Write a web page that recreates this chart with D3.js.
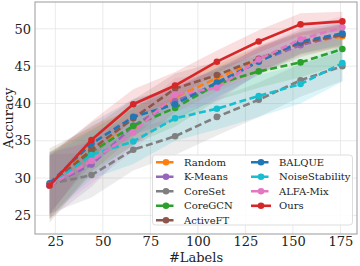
<!DOCTYPE html>
<html>
<head>
<meta charset="utf-8">
<script src="https://cdn.jsdelivr.net/npm/d3@7"></script>
<style>
  body { margin: 0; background: #fff; }
  text { font-family: "DejaVu Serif", serif; fill: #222; }
</style>
</head>
<body>
<div id="vis"></div>
<script>
const width = 360;
const height = 266;

// x positions (number of labels)
const labels = [22, 44, 66, 88, 110, 132, 154, 176];
const xTicks = [25, 50, 75, 100, 125, 150, 175];
const yTicks = [25, 30, 35, 40, 45, 50];

const methods = ["Random", "K-Means", "CoreSet", "CoreGCN", "ActiveFT", "BALQUE", "NoiseStability", "ALFA-Mix", "Ours"];
const colors = ["#ff7f0e", "#9467bd", "#7f7f7f", "#2ca02c", "#8c564b", "#1f77b4", "#17becf", "#e377c2", "#d62728"];

// mean accuracy per method
const randomMean   = [29.0, 34.0, 36.8, 40.8, 43.4, 45.8, 48.0, 49.0];
const kmeansMean   = [29.0, 31.8, 37.0, 40.3, 42.5, 45.7, 47.8, 49.2];
const coresetMean  = [29.2, 30.4, 33.8, 35.6, 38.2, 40.5, 43.1, 45.0];
const coregcnMean  = [29.0, 33.5, 37.0, 39.4, 42.6, 44.3, 45.5, 47.3];
const activeftMean = [29.0, 33.8, 38.0, 42.0, 43.8, 46.0, 48.1, 49.2];
const balqueMean   = [29.3, 34.6, 38.2, 39.9, 42.8, 45.6, 48.3, 49.4];
const noiseMean    = [29.0, 33.1, 34.9, 38.0, 39.3, 41.0, 42.6, 45.4];
const alfamixMean  = [29.0, 32.3, 36.1, 41.2, 42.1, 45.9, 48.6, 50.2];
const oursMean     = [29.0, 35.1, 39.9, 42.4, 45.6, 48.3, 50.6, 51.0];

// standard deviations (shaded bands)
const randomStd   = [4.5, 3.0, 2.5, 2.0, 1.8, 1.8, 1.6, 1.5];
const kmeansStd   = [4.5, 3.0, 2.5, 2.2, 2.0, 1.8, 1.6, 1.5];
const coresetStd  = [4.0, 3.0, 2.8, 2.5, 2.5, 2.3, 2.2, 2.0];
const coregcnStd  = [4.5, 3.0, 2.5, 2.5, 2.2, 2.2, 2.0, 2.0];
const activeftStd = [5.0, 3.0, 2.5, 2.0, 1.8, 1.7, 1.5, 1.5];
const balqueStd   = [4.0, 2.8, 2.4, 2.2, 2.0, 1.8, 1.6, 1.5];
const noiseStd    = [4.0, 3.2, 3.0, 3.0, 2.8, 2.8, 2.6, 2.5];
const alfamixStd  = [4.0, 3.0, 2.5, 2.2, 2.0, 1.8, 1.6, 1.5];
const oursStd     = [4.0, 2.5, 2.0, 1.8, 1.5, 1.5, 1.5, 1.3];

const means = [randomMean, kmeansMean, coresetMean, coregcnMean, activeftMean, balqueMean, noiseMean, alfamixMean, oursMean];
const stds = [randomStd, kmeansStd, coresetStd, coregcnStd, activeftStd, balqueStd, noiseStd, alfamixStd, oursStd];

const series = methods.map((name, i) => ({
    name: name,
    color: colors[i],
    dashed: name !== "Ours",
    values: labels.map((x, j) => ({ x: x, y: means[i][j], s: stds[i][j] }))
}));

const margin = { top: 2, right: 3, bottom: 32, left: 35 };

const x = d3.scaleLinear().domain([14.3, 183.7]).range([margin.left, width - margin.right]);
const y = d3.scaleLinear().domain([22.5, 53.6]).range([height - margin.bottom, margin.top]);

const svg = d3.select("#vis").append("svg")
    .attr("width", width)
    .attr("height", height);

// grid
const grid = svg.append("g");
grid.selectAll(".gx").data(xTicks).enter().append("line")
    .attr("x1", d => x(d)).attr("x2", d => x(d))
    .attr("y1", margin.top).attr("y2", height - margin.bottom)
    .attr("stroke", "#e4e4e4").attr("stroke-width", 0.8);
grid.selectAll(".gy").data(yTicks).enter().append("line")
    .attr("x1", margin.left).attr("x2", width - margin.right)
    .attr("y1", d => y(d)).attr("y2", d => y(d))
    .attr("stroke", "#e4e4e4").attr("stroke-width", 0.8);

// bands
const area = d3.area()
    .x(d => x(d.x))
    .y0(d => y(d.y - d.s))
    .y1(d => y(d.y + d.s));

svg.append("g").selectAll("path").data(series).enter().append("path")
    .attr("d", d => area(d.values))
    .attr("fill", d => d.color)
    .attr("opacity", 0.15);

// lines
const line = d3.line().x(d => x(d.x)).y(d => y(d.y));

const lines = svg.append("g").selectAll("g").data(series).enter().append("g");
lines.append("path")
    .attr("d", d => line(d.values))
    .attr("fill", "none")
    .attr("stroke", d => d.color)
    .attr("stroke-width", 2.6)
    .attr("stroke-dasharray", d => d.dashed ? "7,3.5" : null);
lines.selectAll("circle").data(d => d.values.map(v => ({ ...v, color: d.color }))).enter().append("circle")
    .attr("cx", d => x(d.x))
    .attr("cy", d => y(d.y))
    .attr("r", 3.3)
    .attr("fill", d => d.color);

// frame
svg.append("rect")
    .attr("x", margin.left).attr("y", margin.top)
    .attr("width", width - margin.left - margin.right)
    .attr("height", height - margin.top - margin.bottom)
    .attr("fill", "none")
    .attr("stroke", "#999").attr("stroke-width", 1);

// axes
const xAxis = svg.append("g")
    .attr("transform", `translate(0,${height - margin.bottom})`)
    .call(d3.axisBottom(x).tickValues(xTicks).tickSize(0).tickPadding(3));
const yAxis = svg.append("g")
    .attr("transform", `translate(${margin.left},0)`)
    .call(d3.axisLeft(y).tickValues(yTicks).tickSize(0).tickPadding(4));
[xAxis, yAxis].forEach(a => {
    a.select(".domain").remove();
    a.selectAll("text").style("font-family", "'DejaVu Serif', serif").style("font-size", "13px").attr("fill", "#222");
});

svg.append("text")
    .attr("x", (margin.left + width - margin.right) / 2)
    .attr("y", 262)
    .attr("text-anchor", "middle")
    .style("font-size", "13px")
    .text("#Labels");

svg.append("text")
    .attr("transform", `translate(13,${(margin.top + height - margin.bottom) / 2}) rotate(-90)`)
    .attr("text-anchor", "middle")
    .style("font-size", "13px")
    .text("Accuracy");

// legend
const legend = svg.append("g");
legend.append("rect")
    .attr("x", 152.5).attr("y", 155)
    .attr("width", 200).attr("height", 70)
    .attr("rx", 3)
    .attr("fill", "#fff").attr("fill-opacity", 0.85)
    .attr("stroke", "#ddd");

const item = legend.selectAll(".item").data(series).enter().append("g")
    .attr("transform", (d, i) => {
        const col = i < 5 ? 0 : 1;
        const row = i < 5 ? i : i - 5;
        return `translate(${col === 0 ? 156 : 251},${162.3 + row * 14.5})`;
    });
item.append("line")
    .attr("x1", 0).attr("x2", 20)
    .attr("stroke", d => d.color)
    .attr("stroke-width", 2.6)
    .attr("stroke-dasharray", d => d.dashed ? "7,3.5" : null);
item.append("circle").attr("cx", 10).attr("r", 3.3).attr("fill", d => d.color);
item.append("text")
    .attr("x", 28).attr("dy", "0.35em")
    .style("font-size", "10px")
    .text(d => d.name);
</script>
</body>
</html>
